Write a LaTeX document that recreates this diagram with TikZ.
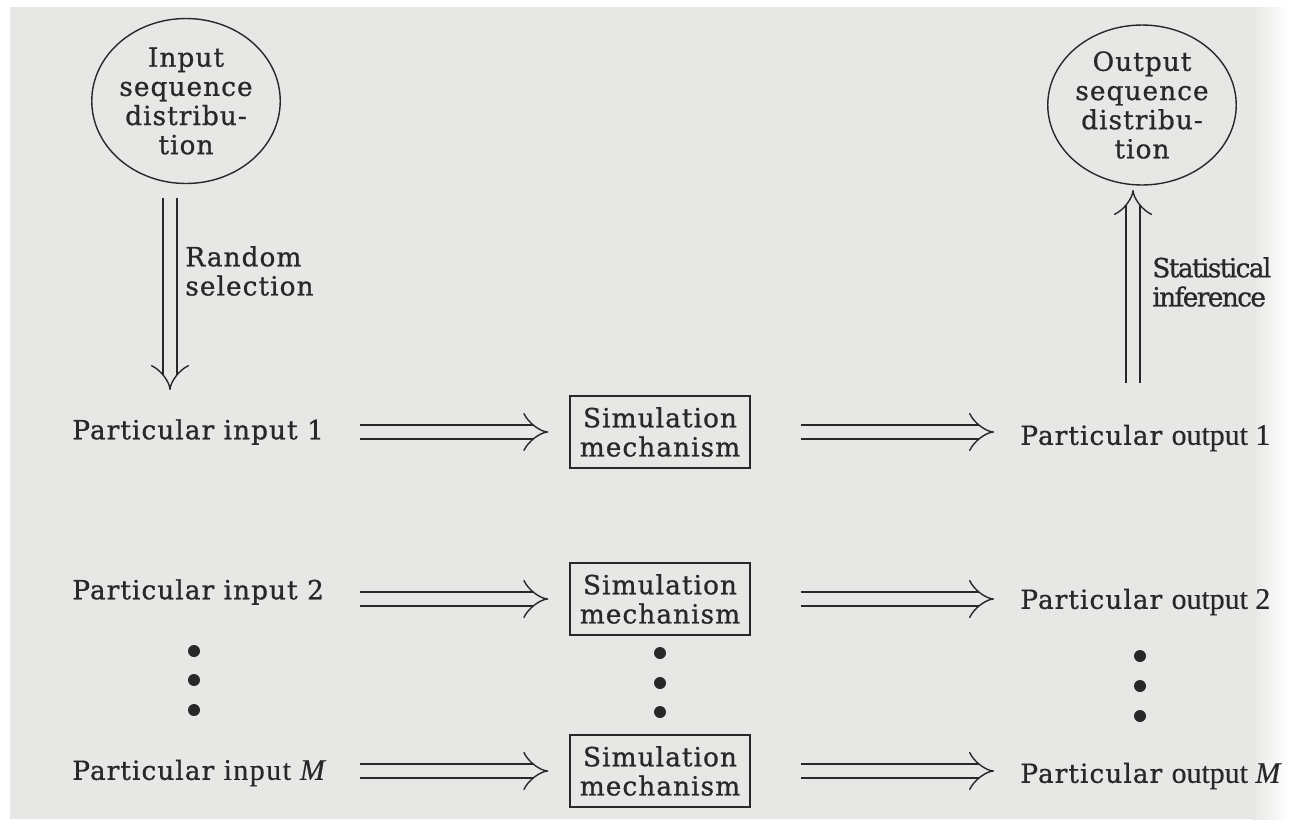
\documentclass[tikz,border=0pt]{standalone}
\usepackage{fontspec}
\setmainfont{DejaVu Serif}[LetterSpace=4, FakeBold=0.8]
\newfontfamily\tms{Liberation Serif}[FakeBold=0.4]
\usetikzlibrary{arrows.meta,shapes.geometric}
\definecolor{paper}{RGB}{231,231,229}
\definecolor{ink}{RGB}{40,40,40}
\newcommand{\tmsfont}{\tms\fontsize{17}{19}\selectfont}
\tikzset{
  every node/.style={text=ink, font=\fontsize{15}{16.6}\selectfont},
  lbl/.style={align=left, inner sep=0pt},
  dist/.style={ellipse, draw=ink, line width=0.028cm, align=center, inner sep=0pt},
  sim/.style={draw=ink, line width=0.03cm, align=center, inner sep=0pt,
              minimum width=3.6cm, minimum height=1.44cm},
  dbl/.style={draw=ink, line width=0.028cm, double=paper, double distance=0.25cm,
              -{Implies}},
  dot/.style={circle, fill=ink, inner sep=0pt, minimum size=0.24cm},
}
\begin{document}
\begin{tikzpicture}[x=0.02cm, y=-0.02cm]
  % page
  \useasboundingbox (0,0) rectangle (1289,819);
  \fill[paper] (0,0) rectangle (1289,819);
  \fill[white] (0,0) rectangle (1289,7);
  \fill[white] (0,0) rectangle (10,819);
  \shade[left color=paper, right color=white] (1252,7) rectangle (1289,819);

  % distributions
  \node[dist, minimum width=3.5cm, minimum height=3.3cm] (ind) at (186,101)
       {Input\\sequence\\distribu-\\tion};
  \node[dist, minimum width=3.3cm, minimum height=3.2cm] (outd) at (1142,105)
       {Output\\sequence\\distribu-\\tion};

  % random selection
  \coordinate (rsA) at (170,198);
  \coordinate (rsB) at (170,390);
  \draw[dbl] (rsA) -- (rsB);
  \node[lbl, anchor=west] (rs) at (185,271) {Random\\selection};

  % statistical inference
  \coordinate (siA) at (1133,383);
  \coordinate (siB) at (1133,190);
  \draw[dbl] (siA) -- (siB);
  \node[lbl, anchor=west, font=\fontsize{15}{16.6}\selectfont\addfontfeature{LetterSpace=-6}]
       (si) at (1152,282) {Statistical\\inference};

  % inputs
  \node[lbl, anchor=west] (in1) at (72,432) {Particular input 1};
  \node[lbl, anchor=west] (in2) at (72,592) {Particular input 2};
  \node[lbl, anchor=west] (inM) at (72,773)
       {Particular {\tmsfont\addfontfeature{LetterSpace=5}input \textit{M}}};

  % simulation mechanisms
  \node[sim] (s1) at (660,432) {Simulation\\mechanism};
  \node[sim] (s2) at (660,599) {Simulation\\mechanism};
  \node[sim] (s3) at (660,771) {Simulation\\mechanism};

  % outputs
  \node[lbl, anchor=west] (o1) at (1020,438) {Particular {\tmsfont output 1}};
  \node[lbl, anchor=west] (o2) at (1020,602) {Particular {\tmsfont output 2}};
  \node[lbl, anchor=west] (oM) at (1020,776) {Particular {\tmsfont output \textit{M}}};

  % input -> mechanism
  \draw[dbl, shorten <=0.72cm, shorten >=0.42cm] (in1.east |- s1.west) -- (s1.west);
  \draw[dbl, shorten <=0.72cm, shorten >=0.42cm] (in2.east |- s2.west) -- (s2.west);
  \draw[dbl, shorten <=0.64cm, shorten >=0.42cm] (inM.east |- s3.west) -- (s3.west);

  % mechanism -> output
  \draw[dbl, shorten <=1.0cm, shorten >=0.52cm] (s1.east) -- (s1.east -| o1.west);
  \draw[dbl, shorten <=1.0cm, shorten >=0.52cm] (s2.east) -- (s2.east -| o2.west);
  \draw[dbl, shorten <=1.0cm, shorten >=0.52cm] (s3.east) -- (s3.east -| oM.west);

  % ellipses between rows
  \node[dot] (la) at (194,651) {};
  \node[dot] (lb) at (194,680) {};
  \node[dot] (lc) at (194,710) {};
  \node[dot] (ma) at (660,653) {};
  \node[dot] (mb) at (660,683) {};
  \node[dot] (mc) at (660,712) {};
  \node[dot] (ra) at (1140,656) {};
  \node[dot] (rb) at (1140,686) {};
  \node[dot] (rc) at (1140,716) {};
\end{tikzpicture}
\end{document}
